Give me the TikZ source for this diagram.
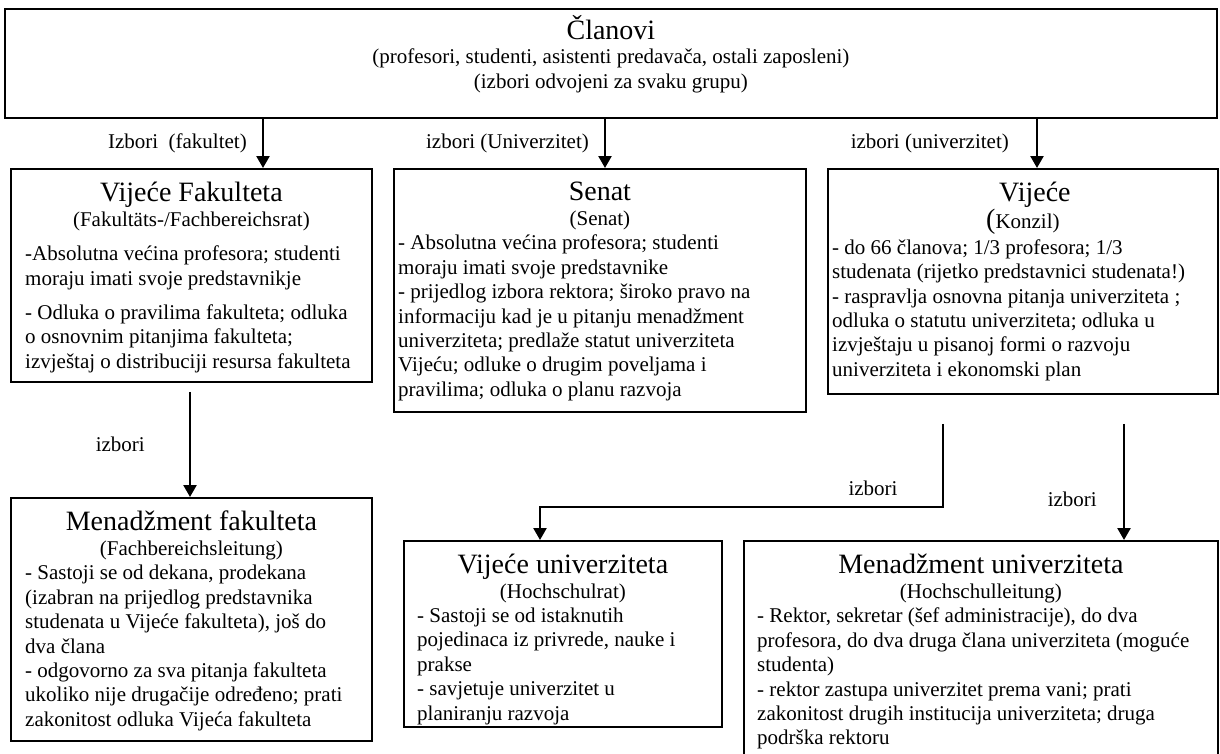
\documentclass[tikz,border=0pt]{standalone}
\usepackage{fontspec}
\setmainfont{Liberation Serif}
\usetikzlibrary{arrows.meta,positioning}

\newcommand{\titlefont}{\fontsize{28}{32}\selectfont}

\tikzset{
  unit/.style={draw, line width=1.8pt, anchor=north west, inner sep=0pt},
  head/.style={anchor=north, align=center, inner sep=0pt, font=\fontsize{21}{24.4}\selectfont},
  body/.style={anchor=north west, align=left, inner sep=0pt, font=\fontsize{21}{24.4}\selectfont},
  lbl/.style={inner sep=0pt, font=\fontsize{21}{24.4}\selectfont},
  elect/.style={line width=2.4pt, -{Triangle[width=13pt,length=12pt]}}
}

\begin{document}
\begin{tikzpicture}[x=1pt, y=-1pt]
    \useasboundingbox (0,0) rectangle (1220,753);
    \clip (0,0) rectangle (1220,753);

    % members
    \node[unit, minimum width=1212pt, minimum height=109pt] (top) at (4,8) {};
    \node[head] (top-h) at ([yshift=-7pt]top.north) {{\titlefont Članovi}\\(profesori, studenti, asistenti predavača, ostali zaposleni)\\(izbori odvojeni za svaku grupu)};

    % first row
    \node[unit, minimum width=361pt, minimum height=213pt] (vf) at (10,168) {};
    \node[head] (vf-h) at ([yshift=-14pt]vf.north) {{\titlefont Vijeće Fakulteta}\\(Fakultäts-/Fachbereichsrat)};
    \node[body] (vf-b) at ([xshift=15pt, yshift=-15pt]vf.west |- vf-h.south) {-Absolutna većina profesora; studenti\\moraju imati svoje predstavnikje\\[10pt]- Odluka o pravilima fakulteta; odluka\\o osnovnim pitanjima fakulteta;\\izvještaj o distribuciji resursa fakulteta};

    \node[unit, minimum width=412pt, minimum height=243pt] (senat) at (393,168) {};
    \node[head] (senat-h) at ([yshift=-14pt]senat.north) {{\titlefont Senat}\\(Senat)};
    \node[body] (senat-b) at ([xshift=5pt, yshift=-5pt]senat.west |- senat-h.south) {- Absolutna većina profesora; studenti\\moraju imati svoje predstavnike\\- prijedlog izbora rektora; široko pravo na\\informaciju kad je u pitanju menadžment\\univerziteta; predlaže statut univerziteta\\Vijeću; odluke o drugim poveljama i\\pravilima; odluka o planu razvoja};

    \node[unit, minimum width=390pt, minimum height=225pt] (vijece) at (827,168) {};
    \node[head] (vijece-h) at ([yshift=-14pt]vijece.north) {\hspace*{24pt}{\titlefont Vijeće}\\{\titlefont(}Konzil)};
    \node[body] (vijece-b) at ([xshift=5pt, yshift=-5pt]vijece.west |- vijece-h.south) {- do 66 članova; 1/3 profesora; 1/3\\studenata (rijetko predstavnici studenata!)\\- raspravlja osnovna pitanja univerziteta ;\\odluka o statutu univerziteta; odluka u\\izvještaju u pisanoj formi o razvoju\\univerziteta i ekonomski plan};

    % second row
    \node[unit, minimum width=361pt, minimum height=243pt] (mf) at (10,497) {};
    \node[head] (mf-h) at ([yshift=-14pt]mf.north) {{\titlefont Menadžment fakulteta}\\(Fachbereichsleitung)};
    \node[body] (mf-b) at ([xshift=15pt, yshift=-5pt]mf.west |- mf-h.south) {- Sastoji se od dekana, prodekana\\(izabran na prijedlog predstavnika\\studenata u Vijeće fakulteta), još do\\dva člana\\- odgovorno za sva pitanja fakulteta\\ukoliko nije drugačije određeno; prati\\zakonitost odluka Vijeća fakulteta};

    \node[unit, minimum width=318pt, minimum height=186pt] (vu) at (403,540) {};
    \node[head] (vu-h) at ([yshift=-14pt]vu.north) {{\titlefont Vijeće univerziteta}\\(Hochschulrat)};
    \node[body] (vu-b) at ([xshift=14pt, yshift=-5pt]vu.west |- vu-h.south) {- Sastoji se od istaknutih\\pojedinaca iz privrede, nauke i\\prakse\\- savjetuje univerzitet u\\planiranju razvoja};

    \node[unit, minimum width=474pt, minimum height=240pt] (mu) at (743,540) {};
    \node[head] (mu-h) at ([yshift=-14pt]mu.north) {{\titlefont Menadžment univerziteta}\\(Hochschulleitung)};
    \node[body] (mu-b) at ([xshift=14pt, yshift=-5pt]mu.west |- mu-h.south) {- Rektor, sekretar (šef administracije), do dva\\profesora, do dva druga člana univerziteta (moguće\\studenta)\\- rektor zastupa univerzitet prema vani; prati\\zakonitost drugih institucija univerziteta; druga\\podrška rektoru};

    % elections
    \coordinate (x1) at (263,0);
    \coordinate (x2) at (605,0);
    \coordinate (x3) at (1037,0);
    \coordinate (x4) at (190,0);
    \coordinate (x5) at (943,0);
    \coordinate (x6) at (1124,0);
    \coordinate (bend) at (540,507);

    \draw[elect] (top.south -| x1) -- node[lbl, left=15pt] {Izbori\ \ (fakultet)} (vf.north -| x1);
    \draw[elect] (top.south -| x2) -- node[lbl, left=15pt] {izbori (Univerzitet)} (senat.north -| x2);
    \draw[elect] (top.south -| x3) -- node[lbl, left=27pt] {izbori (univerzitet)} (vijece.north -| x3);

    \draw[elect] ([yshift=-9pt]vf.south -| x4) -- node[lbl, left=44pt] {izbori} (mf.north -| x4);
    \draw[elect] ([yshift=-29pt]vijece.south -| x5) |- (bend) -- (vu.north -| bend);
    \node[lbl] (l5) at (873,488) {izbori};
    \draw[elect] ([yshift=-29pt]vijece.south -| x6) -- node[lbl, pos=0.65, left=26pt] {izbori} (mu.north -| x6);
\end{tikzpicture}
\end{document}
